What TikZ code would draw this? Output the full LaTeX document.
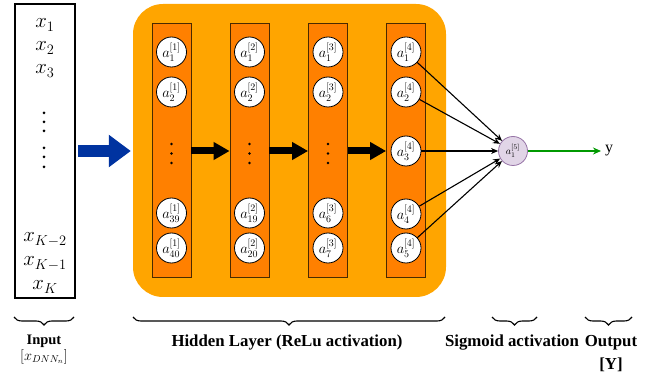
\documentclass[tikz,border=0pt]{standalone}
\usepackage{fontspec}
\setmainfont{Liberation Serif}
\usetikzlibrary{arrows.meta,decorations.pathreplacing}
\definecolor{outerorange}{HTML}{FFA500}
\definecolor{colorange}{HTML}{FF8000}
\definecolor{coldraw}{HTML}{4A2A00}
\definecolor{arrowblue}{RGB}{0,51,160}
\definecolor{sigfill}{HTML}{E1D5E7}
\definecolor{sigdraw}{HTML}{9673A6}
\definecolor{outgreen}{HTML}{009900}

\begin{document}
\begin{tikzpicture}[x=1pt,y=-1pt,
  neuron/.style={circle,draw=black,fill=white,line width=0.8pt,minimum size=30pt,
    inner sep=0pt,font=\fontsize{14}{16}\selectfont},
  layercol/.style={draw=coldraw,fill=colorange,line width=0.8pt,minimum width=39pt,
    minimum height=254pt,inner sep=0pt},
  xlab/.style={anchor=base,inner sep=0pt,font=\fontsize{21.5}{24}\selectfont},
  fwd/.style={line width=7pt,-{Triangle[length=16pt,width=17pt]}},
  conn/.style={line width=1.1pt,-{Stealth[length=7pt,width=6pt]}},
  lbl/.style={anchor=base,inner sep=0pt,font=\fontsize{16.8}{20}\selectfont\bfseries},
  brc/.style={decorate,decoration={brace,mirror,amplitude=8pt},line width=1.1pt},
  vdot/.style={fill=black}
]
\useasboundingbox (0,0) rectangle (651,374);

% input vector
\node[draw=black,line width=2pt,minimum width=60pt,minimum height=294pt,inner sep=0pt]
  (inbox) at (45,151) {};
\node[xlab] (x1) at (45,28) {$x_1$};
\node[xlab] (x2) at (45,51) {$x_2$};
\node[xlab] (x3) at (45,74) {$x_3$};
\node[xlab] (xk2) at (45,242) {$x_{K-2}$};
\node[xlab] (xk1) at (45,266) {$x_{K-1}$};
\node[xlab] (xk) at (45,290) {$x_K$};
\foreach \yy in {113,122,131,148,157,167}
  \fill[vdot] (44,\yy) circle[radius=1.5pt];

% hidden block
\node[fill=outerorange,rounded corners=30pt,minimum width=313pt,minimum height=293pt,
  inner sep=0pt] (hidden) at (289.5,150.5) {};

% hidden layer columns
\foreach \c/\xx in {1/171.5,2/249.5,3/328,4/406}
  \node[layercol] (L\c) at (\xx,150) {};

% neurons of the first three layers
\foreach \c/\xx/\p/\q in {1/171.5/39/40,2/249.5/19/20,3/328/6/7}{
  \node[neuron] (n\c-1) at (\xx,52) {$a_{1}^{[\c]}$};
  \node[neuron] (n\c-2) at (\xx,92) {$a_{2}^{[\c]}$};
  \node[neuron] (n\c-3) at (\xx,213) {$a_{\p}^{[\c]}$};
  \node[neuron] (n\c-4) at (\xx,248) {$a_{\q}^{[\c]}$};
  \foreach \yy in {144,153.5,163}
    \fill[vdot] (\xx,\yy) circle[radius=1.4pt];
}

% last hidden layer
\foreach \k/\yy in {1/52,2/92,3/151,4/214,5/248}
  \node[neuron] (n4-\k) at (406,\yy) {$a_{\k}^{[4]}$};

% forward arrows between layers
\draw[fwd] (L1.east |- n4-3) -- (L2.west |- n4-3);
\draw[fwd] (L2.east |- n4-3) -- (L3.west |- n4-3);
\draw[fwd] (L3.east |- n4-3) -- (L4.west |- n4-3);

% input arrow
\draw[arrowblue,line width=12pt,-{Triangle[length=22pt,width=31pt]}]
  ([xshift=2pt]inbox.east |- n4-3) -- ([xshift=-2pt]hidden.west |- n4-3);

% sigmoid output neuron
\node[circle,draw=sigdraw,fill=sigfill,line width=0.8pt,minimum size=29pt,inner sep=0pt,
  font=\fontsize{10}{12}\selectfont] (sig) at (513,151) {$a_{1}^{[5]}$};
\foreach \k in {1,...,5}
  \draw[conn] (n4-\k) -- (sig);

\node[anchor=west,inner sep=4pt,font=\fontsize{16}{18}\selectfont] (yout) at (601,151) {y};
\draw[outgreen,line width=1.3pt,-{Stealth[length=8pt,width=7pt]}] (sig) -- (yout.west);

% braces and captions
\coordinate (bi1) at (14,317);  \coordinate (bi2) at (74,317);
\coordinate (bh1) at (133,317); \coordinate (bh2) at (445,317);
\coordinate (bs1) at (492,317); \coordinate (bs2) at (537,317);
\coordinate (bo1) at (585,317); \coordinate (bo2) at (632,317);
\draw[brc] (bi1) -- (bi2);
\draw[brc] (bh1) -- (bh2);
\draw[brc] (bs1) -- (bs2);
\draw[brc] (bo1) -- (bo2);

\node[lbl,font=\fontsize{14.5}{17}\selectfont\bfseries] (tin) at (44,344) {Input};
\node[anchor=base,inner sep=0pt,font=\fontsize{14}{16}\selectfont] (tinx) at (44,360) {$[x_{DNN_n}]$};
\node[lbl] (thid) at (287,346) {Hidden Layer (ReLu activation)};
\node[lbl] (tsig) at (512,346) {Sigmoid activation};
\node[lbl] (tout) at (611,346) {Output};
\node[lbl] (ty) at (611,369) {[Y]};
\end{tikzpicture}
\end{document}
